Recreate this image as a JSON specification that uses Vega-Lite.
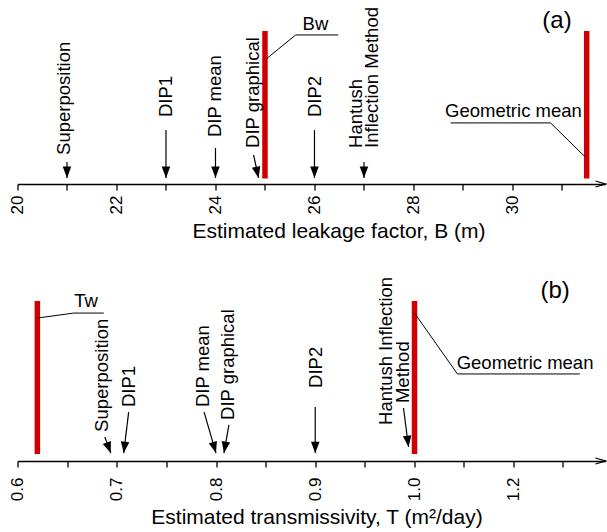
{
  "$schema": "https://vega.github.io/schema/vega-lite/v6.json",
  "padding": {"left": 8.5, "top": 0, "right": 2, "bottom": 2},
  "bounds": "flush",
  "spacing": 93,
  "resolve": {"scale": {"x": "independent", "y": "independent"}},
  "config": {
    "view": {"stroke": null},
    "font": "Liberation Sans",
    "text": {"font": "Liberation Sans", "fontSize": 18.5, "color": "black"},
    "axis": {
      "domainColor": "black", "domainWidth": 1.3, "tickColor": "black", "tickWidth": 1.3, "tickSize": 6,
      "labelColor": "black", "labelFont": "Liberation Sans", "labelFontSize": 17, "labelAngle": 270,
      "labelPadding": 5, "labelFlush": false, "labelOverlap": false, "labelBound": false,
      "titleFont": "Liberation Sans", "titleFontSize": 21, "titleFontWeight": "normal", "titleColor": "black",
      "titleBaseline": "alphabetic", "titleAlign": "center", "grid": false
    }
  },
  "vconcat": [
    {
      "width": 588, "height": 184,
      "data": {"values": [
        {"kind": "bar", "name": "Bw", "x": 25.0},
        {"kind": "bar", "name": "Geometric mean", "x": 31.5},
        {"kind": "arrow", "name": "Superposition", "x": 21, "y": 12.0, "x2": 21, "y2": 3.3},
        {"kind": "arrow", "name": "DIP1", "x": 23, "y": 29.3, "x2": 23, "y2": 3.3},
        {"kind": "arrow", "name": "DIP mean", "x": 24, "y": 19.6, "x2": 24, "y2": 3.3},
        {"kind": "arrow", "name": "DIP graphical", "x": 24.77, "y": 15.8, "x2": 24.87, "y2": 3.3},
        {"kind": "arrow", "name": "DIP2", "x": 26, "y": 29.3, "x2": 26, "y2": 3.3},
        {"kind": "arrow", "name": "Hantush Inflection Method", "x": 27, "y": 12.0, "x2": 27, "y2": 3.3},
        {"kind": "label", "text": "Superposition", "x": 20.94, "y": 15.8},
        {"kind": "label", "text": "DIP1", "x": 23.0, "y": 36.4},
        {"kind": "label", "text": "DIP mean", "x": 24.0, "y": 25.5},
        {"kind": "label", "text": "DIP graphical", "x": 24.76, "y": 19.6},
        {"kind": "label", "text": "DIP2", "x": 26.01, "y": 36.4},
        {"kind": "label", "text": "Hantush", "x": 26.84, "y": 19.6},
        {"kind": "label", "text": "Inflection Method", "x": 27.16, "y": 19.6},
        {"kind": "note", "text": "Bw", "x": 26.02, "y": 83.7},
        {"kind": "note", "text": "Geometric mean", "x": 30.02, "y": 36.4},
        {"kind": "tag", "text": "(a)", "x": 30.9, "y": 84.8},
        {"kind": "leader", "name": "Bw", "order": 1, "x": 25.0, "y": 67.4},
        {"kind": "leader", "name": "Bw", "order": 2, "x": 25.62, "y": 81.0},
        {"kind": "leader", "name": "Bw", "order": 3, "x": 26.48, "y": 81.0},
        {"kind": "leader", "name": "Geometric mean", "order": 1, "x": 28.75, "y": 33.2},
        {"kind": "leader", "name": "Geometric mean", "order": 2, "x": 30.77, "y": 33.2},
        {"kind": "leader", "name": "Geometric mean", "order": 3, "x": 31.47, "y": 14.7},
        {"kind": "end", "x": 31.88, "y": 0}
      ]},
      "layer": [
        {
          "transform": [{"filter": "datum.kind == 'bar'"}],
          "mark": {"type": "rule", "color": "#d10000", "strokeWidth": 5.5},
          "encoding": {
            "x": {"field": "x", "type": "quantitative",
              "scale": {"domain": [20, 31.88], "nice": false, "zero": false},
              "axis": {"values": [20, 21, 22, 23, 24, 25, 26, 27, 28, 29, 30, 31],
                "labelExpr": "datum.value % 2 === 0 ? datum.label : ''",
                "title": "Estimated leakage factor, B (m)", "titleX": 321, "titleY": 53}},
            "y": {"datum": 3.0, "type": "quantitative", "scale": {"domain": [0, 100], "nice": false, "zero": false}, "axis": null},
            "y2": {"datum": 83.2}
          }
        },
        {
          "transform": [{"filter": "datum.kind == 'arrow'"}],
          "mark": {"type": "rule", "color": "black", "strokeWidth": 1.2},
          "encoding": {
            "x": {"field": "x", "type": "quantitative"},
            "y": {"field": "y", "type": "quantitative", "axis": null},
            "x2": {"field": "x2"}, "y2": {"field": "y2"}
          }
        },
        {
          "transform": [{"filter": "datum.kind == 'arrow' && datum.x == datum.x2"}],
          "mark": {"type": "point", "shape": "M0,0L-0.75,-2L0.75,-2Z", "filled": true, "size": 130, "color": "black", "opacity": 1, "strokeWidth": 0},
          "encoding": {
            "x": {"field": "x2", "type": "quantitative"},
            "y": {"field": "y2", "type": "quantitative", "axis": null}
          }
        },
        {
          "transform": [{"filter": "datum.kind == 'arrow' && datum.name == 'DIP graphical'"}],
          "mark": {"type": "point", "shape": "M0,0L-0.75,-2L0.75,-2Z", "filled": true, "size": 130, "color": "black", "opacity": 1, "strokeWidth": 0, "angle": -12.3},
          "encoding": {
            "x": {"field": "x2", "type": "quantitative"},
            "y": {"field": "y2", "type": "quantitative", "axis": null}
          }
        },
        {
          "transform": [{"filter": "datum.kind == 'label'"}],
          "mark": {"type": "text", "angle": 270, "align": "left", "baseline": "middle"},
          "encoding": {
            "x": {"field": "x", "type": "quantitative"},
            "y": {"field": "y", "type": "quantitative", "axis": null},
            "text": {"field": "text"}
          }
        },
        {
          "transform": [{"filter": "datum.kind == 'note'"}],
          "mark": {"type": "text", "align": "center", "baseline": "alphabetic"},
          "encoding": {
            "x": {"field": "x", "type": "quantitative"},
            "y": {"field": "y", "type": "quantitative", "axis": null},
            "text": {"field": "text"}
          }
        },
        {
          "transform": [{"filter": "datum.kind == 'tag'"}],
          "mark": {"type": "text", "align": "center", "baseline": "alphabetic", "fontSize": 24},
          "encoding": {
            "x": {"field": "x", "type": "quantitative"},
            "y": {"field": "y", "type": "quantitative", "axis": null},
            "text": {"field": "text"}
          }
        },
        {
          "transform": [{"filter": "datum.kind == 'leader'"}],
          "mark": {"type": "line", "color": "black", "strokeWidth": 1},
          "encoding": {
            "x": {"field": "x", "type": "quantitative"},
            "y": {"field": "y", "type": "quantitative", "axis": null},
            "detail": {"field": "name"},
            "order": {"field": "order"}
          }
        },
        {
          "transform": [{"filter": "datum.kind == 'end'"}],
          "mark": {"type": "point", "shape": "M-2,-0.6L0,0L-2,0.6", "filled": false, "size": 100, "color": "black", "opacity": 1, "strokeWidth": 1.3},
          "encoding": {
            "x": {"field": "x", "type": "quantitative"},
            "y": {"field": "y", "type": "quantitative", "axis": null}
          }
        }
      ]
    },
    {
      "width": 588, "height": 184,
      "data": {"values": [
        {"kind": "bar", "name": "Tw", "x": 0.62},
        {"kind": "bar", "name": "Geometric mean", "x": 1.0},
        {"kind": "arrow", "name": "Superposition", "x": 0.688, "y": 13.0, "x2": 0.694, "y2": 4.3},
        {"kind": "arrow", "name": "DIP1", "x": 0.712, "y": 26.6, "x2": 0.707, "y2": 4.3},
        {"kind": "arrow", "name": "DIP mean", "x": 0.788, "y": 26.6, "x2": 0.8, "y2": 4.3},
        {"kind": "arrow", "name": "DIP graphical", "x": 0.813, "y": 19.6, "x2": 0.808, "y2": 4.3},
        {"kind": "arrow", "name": "DIP2", "x": 0.9, "y": 29.3, "x2": 0.9, "y2": 4.3},
        {"kind": "arrow", "name": "Hantush Inflection Method", "x": 0.9889, "y": 28.8, "x2": 0.994, "y2": 7.6},
        {"kind": "label", "text": "Superposition", "x": 0.6854, "y": 15.8},
        {"kind": "label", "text": "DIP1", "x": 0.7126, "y": 29.3},
        {"kind": "label", "text": "DIP mean", "x": 0.7874, "y": 29.3},
        {"kind": "label", "text": "DIP graphical", "x": 0.8116, "y": 22.3},
        {"kind": "label", "text": "DIP2", "x": 0.9005, "y": 39.7},
        {"kind": "label", "text": "Hantush Inflection", "x": 0.9717, "y": 19.6},
        {"kind": "label", "text": "Method", "x": 0.9884, "y": 31.5},
        {"kind": "note", "text": "Tw", "x": 0.669, "y": 83.7},
        {"kind": "note", "text": "Geometric mean", "x": 1.224, "y": 50.0},
        {"kind": "tag", "text": "(b)", "x": 1.285, "y": 88.6},
        {"kind": "leader", "name": "Tw", "order": 1, "x": 0.62, "y": 77.7},
        {"kind": "leader", "name": "Tw", "order": 2, "x": 0.6566, "y": 80.4},
        {"kind": "leader", "name": "Tw", "order": 3, "x": 0.6869, "y": 80.4},
        {"kind": "leader", "name": "Geometric mean", "order": 1, "x": 1.0, "y": 80.4},
        {"kind": "leader", "name": "Geometric mean", "order": 2, "x": 1.087, "y": 47.3},
        {"kind": "leader", "name": "Geometric mean", "order": 3, "x": 1.335, "y": 47.3},
        {"kind": "end", "x": 1.387, "y": 0}
      ]},
      "layer": [
        {
          "transform": [{"filter": "datum.kind == 'bar'"}],
          "mark": {"type": "rule", "color": "#d10000", "strokeWidth": 5.5},
          "encoding": {
            "x": {"field": "x", "type": "quantitative",
              "scale": {"domain": [0.6, 1.0, 1.387], "range": [0, 397, 588], "nice": false, "zero": false},
              "axis": {"values": [0.6, 0.65, 0.7, 0.75, 0.8, 0.85, 0.9, 0.95, 1.0, 1.1, 1.2, 1.3],
                "labelExpr": "(datum.value == 0.6 || datum.value == 0.7 || datum.value == 0.8 || datum.value == 0.9 || datum.value == 1 || datum.value == 1.2) ? format(datum.value, '.1f') : ''",
                "labelPadding": 10,
                "title": "Estimated transmissivity, T (m²/day)", "titleX": 299, "titleY": 62}},
            "y": {"datum": 3.8, "type": "quantitative", "scale": {"domain": [0, 100], "nice": false, "zero": false}, "axis": null},
            "y2": {"datum": 87.0}
          }
        },
        {
          "transform": [{"filter": "datum.kind == 'arrow'"}],
          "mark": {"type": "rule", "color": "black", "strokeWidth": 1.2},
          "encoding": {
            "x": {"field": "x", "type": "quantitative"},
            "y": {"field": "y", "type": "quantitative", "axis": null},
            "x2": {"field": "x2"}, "y2": {"field": "y2"}
          }
        },
        {
          "transform": [{"filter": "datum.kind == 'arrow' && datum.x == datum.x2"}],
          "mark": {"type": "point", "shape": "M0,0L-0.75,-2L0.75,-2Z", "filled": true, "size": 130, "color": "black", "opacity": 1, "strokeWidth": 0},
          "encoding": {
            "x": {"field": "x2", "type": "quantitative"},
            "y": {"field": "y2", "type": "quantitative", "axis": null}
          }
        },
        {
          "transform": [{"filter": "datum.kind == 'arrow' && datum.name == 'Superposition'"}],
          "mark": {"type": "point", "shape": "M0,0L-0.75,-2L0.75,-2Z", "filled": true, "size": 130, "color": "black", "opacity": 1, "strokeWidth": 0, "angle": -20.6},
          "encoding": {
            "x": {"field": "x2", "type": "quantitative"},
            "y": {"field": "y2", "type": "quantitative", "axis": null}
          }
        },
        {
          "transform": [{"filter": "datum.kind == 'arrow' && datum.name == 'DIP1'"}],
          "mark": {"type": "point", "shape": "M0,0L-0.75,-2L0.75,-2Z", "filled": true, "size": 130, "color": "black", "opacity": 1, "strokeWidth": 0, "angle": 7},
          "encoding": {
            "x": {"field": "x2", "type": "quantitative"},
            "y": {"field": "y2", "type": "quantitative", "axis": null}
          }
        },
        {
          "transform": [{"filter": "datum.kind == 'arrow' && datum.name == 'DIP mean'"}],
          "mark": {"type": "point", "shape": "M0,0L-0.75,-2L0.75,-2Z", "filled": true, "size": 130, "color": "black", "opacity": 1, "strokeWidth": 0, "angle": -16.3},
          "encoding": {
            "x": {"field": "x2", "type": "quantitative"},
            "y": {"field": "y2", "type": "quantitative", "axis": null}
          }
        },
        {
          "transform": [{"filter": "datum.kind == 'arrow' && datum.name == 'DIP graphical'"}],
          "mark": {"type": "point", "shape": "M0,0L-0.75,-2L0.75,-2Z", "filled": true, "size": 130, "color": "black", "opacity": 1, "strokeWidth": 0, "angle": 10},
          "encoding": {
            "x": {"field": "x2", "type": "quantitative"},
            "y": {"field": "y2", "type": "quantitative", "axis": null}
          }
        },
        {
          "transform": [{"filter": "datum.kind == 'arrow' && datum.name == 'Hantush Inflection Method'"}],
          "mark": {"type": "point", "shape": "M0,0L-0.75,-2L0.75,-2Z", "filled": true, "size": 130, "color": "black", "opacity": 1, "strokeWidth": 0, "angle": -7.3},
          "encoding": {
            "x": {"field": "x2", "type": "quantitative"},
            "y": {"field": "y2", "type": "quantitative", "axis": null}
          }
        },
        {
          "transform": [{"filter": "datum.kind == 'label'"}],
          "mark": {"type": "text", "angle": 270, "align": "left", "baseline": "middle"},
          "encoding": {
            "x": {"field": "x", "type": "quantitative"},
            "y": {"field": "y", "type": "quantitative", "axis": null},
            "text": {"field": "text"}
          }
        },
        {
          "transform": [{"filter": "datum.kind == 'note'"}],
          "mark": {"type": "text", "align": "center", "baseline": "alphabetic"},
          "encoding": {
            "x": {"field": "x", "type": "quantitative"},
            "y": {"field": "y", "type": "quantitative", "axis": null},
            "text": {"field": "text"}
          }
        },
        {
          "transform": [{"filter": "datum.kind == 'tag'"}],
          "mark": {"type": "text", "align": "center", "baseline": "alphabetic", "fontSize": 24},
          "encoding": {
            "x": {"field": "x", "type": "quantitative"},
            "y": {"field": "y", "type": "quantitative", "axis": null},
            "text": {"field": "text"}
          }
        },
        {
          "transform": [{"filter": "datum.kind == 'leader'"}],
          "mark": {"type": "line", "color": "black", "strokeWidth": 1},
          "encoding": {
            "x": {"field": "x", "type": "quantitative"},
            "y": {"field": "y", "type": "quantitative", "axis": null},
            "detail": {"field": "name"},
            "order": {"field": "order"}
          }
        },
        {
          "transform": [{"filter": "datum.kind == 'end'"}],
          "mark": {"type": "point", "shape": "M-2,-0.6L0,0L-2,0.6", "filled": false, "size": 100, "color": "black", "opacity": 1, "strokeWidth": 1.3},
          "encoding": {
            "x": {"field": "x", "type": "quantitative"},
            "y": {"field": "y", "type": "quantitative", "axis": null}
          }
        }
      ]
    }
  ]
}
